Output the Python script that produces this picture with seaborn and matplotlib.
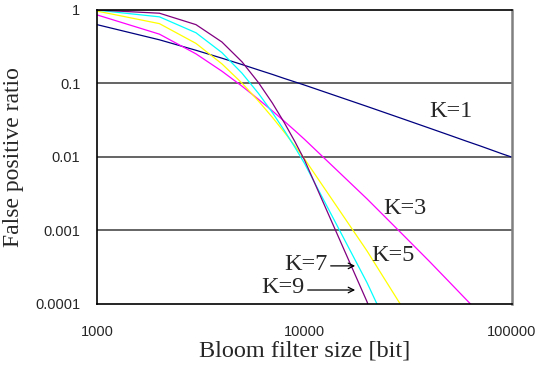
import matplotlib
matplotlib.use("Agg")
import matplotlib.pyplot as plt
import pandas as pd
import numpy as np
import seaborn as sns

# filter sizes [bit]
sizes = [1000, 2000, 3000, 4000, 5000, 6000, 7000, 8000, 9000, 10000,
         20000, 30000, 40000, 50000, 60000, 70000, 80000, 90000, 100000]

# false positive ratio, per number of hash functions K
fp_k1 = [0.632, 0.393, 0.283, 0.221, 0.181, 0.153, 0.133, 0.117, 0.105, 0.0952,
         0.0488, 0.0328, 0.0247, 0.0198, 0.0165, 0.0142, 0.0124, 0.0110, 0.00995]
fp_k3 = [0.858, 0.469, 0.253, 0.147, 0.0919, 0.0609, 0.0424, 0.0306, 0.0228, 0.0174,
         0.0027, 0.00086, 0.00038, 0.000198, 0.000116, 0.000074, 0.00005, 0.000035, 0.000026]
fp_k5 = [0.967, 0.652, 0.351, 0.185, 0.101, 0.0578, 0.0347, 0.0217, 0.0141, 0.00943,
         0.000529, 0.000085, 0.000023, 0.0000078, 0.0000032, 0.0000015, 0.0000008, 0.0000004, 0.0000003]
fp_k7 = [0.994, 0.807, 0.490, 0.263, 0.138, 0.0734, 0.0403, 0.0229, 0.0135, 0.00819,
         0.000196, 0.0000169, 0.0000025, 0.0000006, 0.0000002, 0.0000001, 0.00000005, 0.00000003, 0.00000002]
fp_k9 = [0.999, 0.904, 0.632, 0.367, 0.197, 0.103, 0.0543, 0.0292, 0.0161, 0.00912,
         0.000108, 0.0000053, 0.0000006, 0.0000001, 0.00000003, 0.00000001, 0.000000005, 0.000000002, 0.000000001]

k_labels = ["K=1", "K=3", "K=5", "K=7", "K=9"]
k_colors = ["#000080", "#FF00FF", "#FFFF00", "#00FFFF", "#800080"]

frames = []
for lab, vals in zip(k_labels, [fp_k1, fp_k3, fp_k5, fp_k7, fp_k9]):
    frames.append(pd.DataFrame({"size": sizes, "fp": vals, "K": lab}))
df = pd.concat(frames)

sns.set_style("white")

fig = plt.figure(figsize=(5.37, 3.66), dpi=100)
ax = fig.add_axes([0.1806, 0.1694, 0.9534 - 0.1806, 0.9727 - 0.1694])

ax.set_xscale("log")
ax.set_yscale("log")
for y in [0.1, 0.01, 0.001]:
    ax.axhline(y, color="#3a3a3a", lw=1.1, zorder=0)

sns.lineplot(data=df, x="size", y="fp", hue="K", palette=k_colors,
             legend=False, lw=0.9, ax=ax, sort=False)

ax.set_xlim(1000, 100000)
ax.set_ylim(0.0001, 1)

ax.set_xticks([1000, 10000, 100000])
ax.set_xticklabels(["1000", "10000", "100000"])
ax.set_yticks([1, 0.1, 0.01, 0.001, 0.0001])
ax.set_yticklabels(["1", "0.1", "0.01", "0.001", "0.0001"])
ax.minorticks_off()
for lbl in ax.get_xticklabels() + ax.get_yticklabels():
    lbl.set_family("Liberation Sans")
    lbl.set_fontsize(10.5)
ax.tick_params(axis="x", direction="in", length=4, width=0.8, pad=15)
ax.tick_params(axis="y", direction="out", length=2, width=0.8, pad=10)

serif = "Liberation Serif"
ax.set_xlabel("Bloom filter size [bit]", fontsize=17.5, family=serif, labelpad=1)
ax.set_ylabel("False positive ratio", fontsize=17, family=serif, labelpad=8)

for side in ["left", "top", "bottom"]:
    ax.spines[side].set_color("black")
    ax.spines[side].set_linewidth(1.2)
ax.spines["right"].set_color("#808080")
ax.spines["right"].set_linewidth(1.8)

# curve labels
txt = dict(fontsize=17.5, family=serif, ha="center", va="center")
ax.text(50800, 0.042, "K=1", **txt)
ax.text(30500, 0.00202, "K=3", **txt)
ax.text(26700, 0.00045, "K=5", **txt)
ax.text(10160, 0.00035, "K=7", **txt)
ax.text(7870, 0.00017, "K=9", **txt)
ax.annotate("", xy=(18100, 0.00033), xytext=(12970, 0.00033),
            arrowprops=dict(arrowstyle="->", color="black", lw=0.9))
ax.annotate("", xy=(18100, 0.000155), xytext=(10050, 0.000155),
            arrowprops=dict(arrowstyle="->", color="black", lw=0.9))

fig.savefig("out.png", dpi=100)
